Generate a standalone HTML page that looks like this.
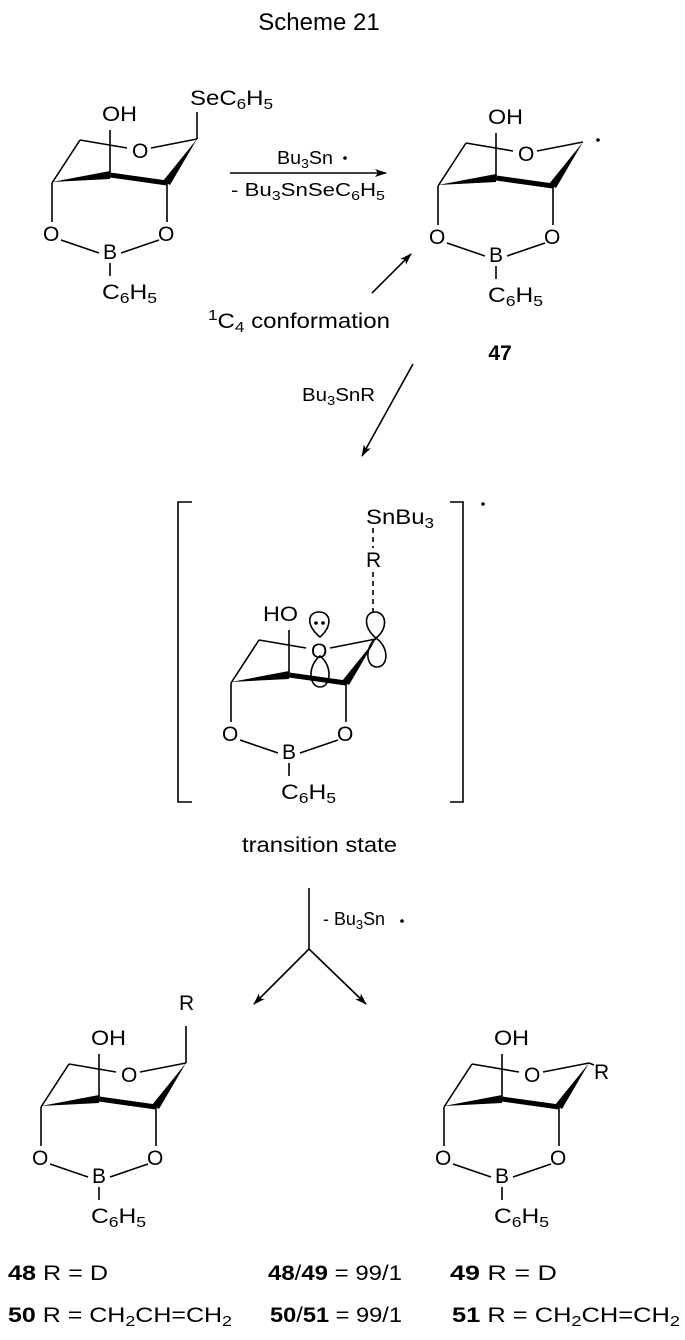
<!DOCTYPE html>
<html><head><meta charset="utf-8"><style>
html,body{margin:0;padding:0;background:#fff;}
svg{display:block;}
text{font-family:"Liberation Sans",Arial,sans-serif;fill:#000;}
</style></head><body>
<svg width="685" height="1340" viewBox="0 0 685 1340" xmlns="http://www.w3.org/2000/svg">
<defs>
<g id="core" stroke="#000" stroke-width="1.6" fill="none">
  <line x1="110" y1="130" x2="110" y2="173"/>
  <line x1="80" y1="140" x2="127" y2="148"/>
  <line x1="151" y1="148" x2="197" y2="139"/>
  <polygon points="197,139 163,181 170,185" fill="#000" stroke="none"/>
  <line x1="110" y1="175" x2="167" y2="183" stroke-width="5"/>
  <polygon points="52,182 110,171 110,179" fill="#000" stroke="none"/>
  <line x1="80" y1="140" x2="52" y2="183"/>
  <line x1="52" y1="183" x2="52" y2="222"/>
  <line x1="167" y1="183" x2="167" y2="222"/>
  <line x1="61" y1="240" x2="99" y2="253"/>
  <line x1="121" y1="253" x2="159" y2="240"/>
  <line x1="110" y1="263" x2="110" y2="276"/>
</g>
<g id="labels">
  <text x="132" y="158" font-size="21">O</text>
  <text x="43" y="241" font-size="21">O</text>
  <text x="158" y="241" font-size="21">O</text>
  <text x="103" y="259" font-size="21">B</text>
  <text x="102" y="299" font-size="21" textLength="55" lengthAdjust="spacingAndGlyphs">C<tspan font-size="15" dy="4">6</tspan><tspan dy="-4">H</tspan><tspan font-size="15" dy="4">5</tspan></text>
</g>
<marker id="ah" markerWidth="12" markerHeight="8" refX="11" refY="4" orient="auto" markerUnits="userSpaceOnUse">
  <path d="M0,0 L12,4 L0,8 L3,4 Z" fill="#000"/>
</marker>
</defs>

<text x="319" y="30" font-size="24" text-anchor="middle">Scheme 21</text>

<!-- molecule 1 -->
<g>
  <use href="#core"/><use href="#labels"/>
  <text x="102" y="121" font-size="21" textLength="35" lengthAdjust="spacingAndGlyphs">OH</text>
  <line x1="197" y1="139" x2="197" y2="112" stroke="#000" stroke-width="1.6"/>
  <text x="190" y="105" font-size="21" textLength="83" lengthAdjust="spacingAndGlyphs">SeC<tspan font-size="15" dy="4">6</tspan><tspan dy="-4">H</tspan><tspan font-size="15" dy="4">5</tspan></text>
</g>

<!-- arrow 1 -->
<line x1="230" y1="173" x2="386" y2="173" stroke="#000" stroke-width="1.6" marker-end="url(#ah)"/>
<text x="277" y="164" font-size="18" textLength="56" lengthAdjust="spacingAndGlyphs">Bu<tspan font-size="13" dy="4">3</tspan><tspan dy="-4">Sn</tspan></text>
<circle cx="345" cy="158" r="1.8" fill="#000"/>
<text x="231" y="196" font-size="18" textLength="154" lengthAdjust="spacingAndGlyphs">- Bu<tspan font-size="13" dy="4">3</tspan><tspan dy="-4">SnSeC</tspan><tspan font-size="13" dy="4">6</tspan><tspan dy="-4">H</tspan><tspan font-size="13" dy="4">5</tspan></text>

<!-- 47 -->
<g transform="translate(386,3)">
  <use href="#core"/><use href="#labels"/>
  <text x="102" y="121" font-size="21" textLength="35" lengthAdjust="spacingAndGlyphs">OH</text>
</g>
<circle cx="598" cy="140" r="1.8" fill="#000"/>
<text x="500" y="360" font-size="21" font-weight="bold" text-anchor="middle">47</text>

<line x1="372" y1="293" x2="411" y2="254" stroke="#000" stroke-width="1.6" marker-end="url(#ah)"/>
<text x="208" y="328" font-size="21" textLength="182" lengthAdjust="spacingAndGlyphs"><tspan font-size="15" dy="-8">1</tspan><tspan dy="8">C</tspan><tspan font-size="15" dy="4">4</tspan><tspan dy="-4"> conformation</tspan></text>

<line x1="413" y1="364" x2="362" y2="456" stroke="#000" stroke-width="1.6" marker-end="url(#ah)"/>
<text x="302" y="401" font-size="18" textLength="73" lengthAdjust="spacingAndGlyphs">Bu<tspan font-size="13" dy="4">3</tspan><tspan dy="-4">SnR</tspan></text>

<!-- transition state -->
<path d="M192,502 L178,502 L178,802 L192,802" stroke="#000" stroke-width="1.6" fill="none"/>
<path d="M450,502 L463,502 L463,802 L450,802" stroke="#000" stroke-width="1.6" fill="none"/>
<circle cx="483" cy="504" r="1.8" fill="#000"/>
<g transform="translate(179,500)">
  <use href="#core"/><use href="#labels"/>
  <text x="84" y="121" font-size="21" textLength="35" lengthAdjust="spacingAndGlyphs">HO</text>
</g>
<text x="366" y="524" font-size="21" textLength="68" lengthAdjust="spacingAndGlyphs">SnBu<tspan font-size="15" dy="4">3</tspan></text>
<text x="366" y="567" font-size="21">R</text>
<line x1="373" y1="528" x2="373" y2="548" stroke="#000" stroke-width="1.6" stroke-dasharray="5,4"/>
<line x1="373" y1="572" x2="373" y2="612" stroke="#000" stroke-width="1.6" stroke-dasharray="5,4"/>
<g stroke="#000" stroke-width="1.6" fill="none">
  <path d="M320,637 C306,626 307,612 319,612 C331,612 333,626 320,637 Z" fill="#fff"/>
  <path d="M320,656 C307,666 309,687 320,687 C331,687 333,666 320,656 Z"/>
  <path d="M376,638 C363,628 364,612 375,612 C386,612 389,628 376,638 Z"/>
  <path d="M376,638 C364,648 366,667 377,667 C388,667 390,648 376,638 Z"/>
</g>
<circle cx="316" cy="623" r="1.8" fill="#000"/>
<circle cx="323" cy="623" r="1.8" fill="#000"/>
<text x="242" y="852" font-size="21" textLength="155" lengthAdjust="spacingAndGlyphs">transition state</text>

<!-- Y arrow -->
<line x1="309" y1="888" x2="309" y2="949" stroke="#000" stroke-width="1.6"/>
<line x1="309" y1="949" x2="254" y2="1004" stroke="#000" stroke-width="1.6" marker-end="url(#ah)"/>
<line x1="309" y1="949" x2="366" y2="1004" stroke="#000" stroke-width="1.6" marker-end="url(#ah)"/>
<text x="323" y="925" font-size="18" textLength="62" lengthAdjust="spacingAndGlyphs">- Bu<tspan font-size="13" dy="4">3</tspan><tspan dy="-4">Sn</tspan></text>
<circle cx="402" cy="921" r="1.8" fill="#000"/>

<!-- 48 -->
<g transform="translate(-11,924)">
  <use href="#core"/><use href="#labels"/>
  <text x="102" y="121" font-size="21" textLength="35" lengthAdjust="spacingAndGlyphs">OH</text>
  <line x1="197" y1="139" x2="197" y2="102" stroke="#000" stroke-width="1.6"/>
  <text x="190" y="86" font-size="21">R</text>
</g>
<!-- 49 -->
<g transform="translate(392,924)">
  <use href="#core"/><use href="#labels"/>
  <text x="102" y="121" font-size="21" textLength="35" lengthAdjust="spacingAndGlyphs">OH</text>
  <line x1="197" y1="139" x2="202" y2="141" stroke="#000" stroke-width="1.6"/>
  <text x="202" y="155" font-size="21">R</text>
</g>

<!-- labels -->
<text x="8" y="1280" font-size="21" textLength="100" lengthAdjust="spacingAndGlyphs"><tspan font-weight="bold">48</tspan>  R = D</text>
<text x="268" y="1280" font-size="21" textLength="134" lengthAdjust="spacingAndGlyphs"><tspan font-weight="bold">48</tspan>/<tspan font-weight="bold">49</tspan> = 99/1</text>
<text x="450" y="1280" font-size="21" textLength="107" lengthAdjust="spacingAndGlyphs"><tspan font-weight="bold">49</tspan>  R = D</text>
<text x="8" y="1322" font-size="21" textLength="224" lengthAdjust="spacingAndGlyphs"><tspan font-weight="bold">50</tspan>  R = CH<tspan font-size="15" dy="4">2</tspan><tspan dy="-4">CH=CH</tspan><tspan font-size="15" dy="4">2</tspan></text>
<text x="270" y="1322" font-size="21" textLength="132" lengthAdjust="spacingAndGlyphs"><tspan font-weight="bold">50</tspan>/<tspan font-weight="bold">51</tspan> = 99/1</text>
<text x="452" y="1322" font-size="21" textLength="228" lengthAdjust="spacingAndGlyphs"><tspan font-weight="bold">51</tspan>  R = CH<tspan font-size="15" dy="4">2</tspan><tspan dy="-4">CH=CH</tspan><tspan font-size="15" dy="4">2</tspan></text>
</svg>
</body></html>
